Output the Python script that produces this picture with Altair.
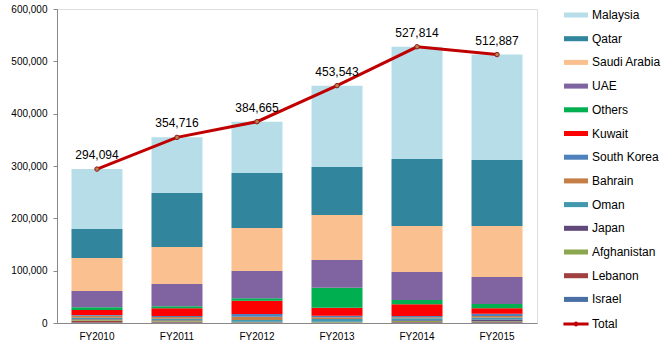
import altair as alt
import pandas as pd

years = ["FY2010", "FY2011", "FY2012", "FY2013", "FY2014", "FY2015"]

# stacked from bottom to top
series_names = ["Israel", "Lebanon", "Afghanistan", "Japan", "Oman", "Bahrain",
                "South Korea", "Kuwait", "Others", "UAE", "Saudi Arabia", "Qatar", "Malaysia"]

israel = [800, 900, 200, 500, 900, 900]
lebanon = [3500, 1500, 300, 500, 1000, 1000]
afghanistan = [2500, 2500, 1000, 700, 2000, 1500]
japan = [1000, 1000, 700, 800, 1500, 3500]
oman = [2000, 2000, 3500, 5100, 3500, 3500]
bahrain = [4000, 3500, 6300, 3300, 2000, 3000]
south_korea = [1500, 2000, 5200, 3100, 2500, 4400]
kuwait = [9500, 14700, 25400, 15000, 22300, 10300]
others = [5200, 3800, 4600, 38500, 8300, 8200]
uae = [31100, 42600, 52200, 52900, 53500, 51600]
saudi = [63100, 70700, 82100, 86000, 87900, 97500]
qatar = [55400, 103200, 105100, 91700, 128000, 126100]
malaysia = [114500, 106300, 98100, 155400, 214400, 201400]

totals = [294094, 354716, 384665, 453543, 527814, 512887]

series_values = [israel, lebanon, afghanistan, japan, oman, bahrain, south_korea,
                 kuwait, others, uae, saudi, qatar, malaysia]

colors = {
    "Malaysia": "#B7DEE8",
    "Qatar": "#31859C",
    "Saudi Arabia": "#FAC090",
    "UAE": "#8064A2",
    "Others": "#00B050",
    "Kuwait": "#FF0000",
    "South Korea": "#4F81BD",
    "Bahrain": "#C47E48",
    "Oman": "#4198AF",
    "Japan": "#604A7B",
    "Afghanistan": "#8BA64F",
    "Lebanon": "#A04040",
    "Israel": "#4A6FA5",
}

legend_order = ["Malaysia", "Qatar", "Saudi Arabia", "UAE", "Others", "Kuwait",
                "South Korea", "Bahrain", "Oman", "Japan", "Afghanistan",
                "Lebanon", "Israel"]

rows = []
for i, (name, vals) in enumerate(zip(series_names, series_values)):
    for y, v in zip(years, vals):
        rows.append({"year": y, "country": name, "value": v, "order": i})
df = pd.DataFrame(rows)
tot_df = pd.DataFrame({"year": years, "total": totals, "series": ["Total"] * len(years)})

FONT = "Liberation Sans"
bar_path = "M-1,-0.21H1V0.21H-1Z"
total_path = ("M-1.05,-0.12H1.05V0.12H-1.05Z "
              "M0.2,0A0.2,0.2 0 1,1 -0.2,0A0.2,0.2 0 1,1 0.2,0Z")

x_enc = alt.X("year:N", title=None, sort=years,
              scale=alt.Scale(paddingInner=0.3625, paddingOuter=0.181),
              axis=alt.Axis(ticks=False, labelAngle=0, labelPadding=8))

bars = alt.Chart(df).mark_bar().encode(
    x=x_enc,
    y=alt.Y("value:Q", stack="zero", title=None,
            scale=alt.Scale(domain=[0, 600000], nice=False),
            axis=alt.Axis(values=[0, 100000, 200000, 300000, 400000, 500000, 600000],
                          format=",d", tickSize=4, labelPadding=6, grid=False)),
    color=alt.Color("country:N",
                    scale=alt.Scale(domain=legend_order,
                                    range=[colors[k] for k in legend_order]),
                    legend=alt.Legend(
                        title=None, orient="none", legendX=507, legendY=-6,
                        symbolType=bar_path, symbolSize=576, symbolStrokeWidth=0,
                        labelFontSize=12, labelFont=FONT, labelColor="#000000",
                        rowPadding=5.7, labelOffset=4)),
    order=alt.Order("order:Q", sort="ascending"),
)

line = alt.Chart(tot_df).mark_line(strokeWidth=3).encode(
    x=alt.X("year:N", sort=years),
    y=alt.Y("total:Q"),
    stroke=alt.Stroke("series:N",
                      scale=alt.Scale(domain=["Total"], range=["#C00000"]),
                      legend=alt.Legend(
                          title=None, orient="none", legendX=507, legendY=303,
                          symbolType=total_path, symbolSize=576,
                          symbolFillColor="#C00000", symbolStrokeWidth=0,
                          labelFontSize=12, labelFont=FONT, labelColor="#000000",
                          labelOffset=4)),
)

points = alt.Chart(tot_df).mark_point(filled=True, size=20, color="#C0804D",
                                       stroke="#8B1A1A", strokeWidth=1,
                                       opacity=1).encode(
    x=alt.X("year:N", sort=years),
    y=alt.Y("total:Q"),
)

labels = alt.Chart(tot_df).mark_text(dy=-14, font=FONT, fontSize=12,
                                      color="#000000").encode(
    x=alt.X("year:N", sort=years),
    y=alt.Y("total:Q"),
    text=alt.Text("total:Q", format=",d"),
)

chart = alt.layer(bars, line, points, labels).properties(
    width=480, height=314,
    autosize=alt.AutoSizeParams(type="none"),
    padding={"left": 57, "top": 9, "right": 131, "bottom": 24},
).configure_view(stroke=None).configure_axis(
    domainColor="#868686", tickColor="#868686", labelColor="#000000",
    labelFont=FONT, labelFontSize=12, grid=False,
).configure(background="white")

chart.save("out.html", embed_options={"renderer": "svg", "actions": False})
